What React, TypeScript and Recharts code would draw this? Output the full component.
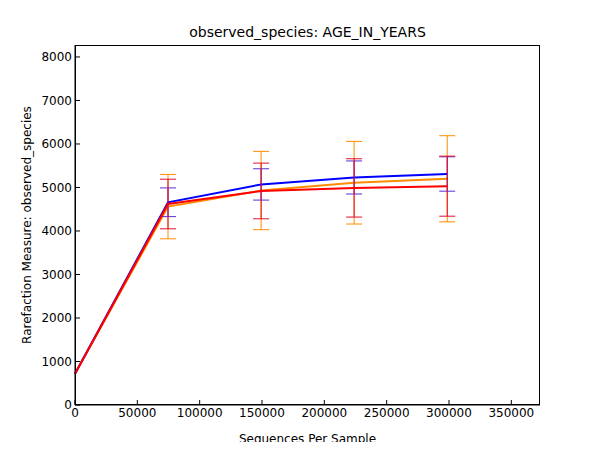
import React from "react";
import { LineChart, Line, XAxis, YAxis, ErrorBar } from "recharts";

const xs = [0, 74600, 149300, 223900, 298600];
const blue = [720, 4660, 5070, 5230, 5310];
const blueErr = [0, 330, 360, 380, 395];
const orange = [720, 4560, 4930, 5110, 5200];
const orangeErr = [0, 740, 900, 950, 990];
const red = [720, 4620, 4920, 4990, 5030];
const redErr = [0, 570, 640, 670, 690];
const xTicks = [0, 50000, 100000, 150000, 200000, 250000, 300000, 350000];
const yTicks = [0, 1000, 2000, 3000, 4000, 5000, 6000, 7000, 8000];

const data = xs.map((x, i) => ({
  x, blue: blue[i], blueErr: blueErr[i], orange: orange[i], orangeErr: orangeErr[i], red: red[i], redErr: redErr[i],
}));

const font = { fontFamily: "DejaVu Sans", fontSize: 12, fill: "#000" };

export default function App() {
  return (
    <div style={{ position: "relative", width: 600, height: 450, margin: -8 }}>
      <div style={{ position: "absolute", left: 0, width: 615, top: 24, textAlign: "center", fontFamily: "DejaVu Sans", fontSize: 14 }}>
        observed_species: AGE_IN_YEARS
      </div>
      <div style={{ position: "absolute", left: 28 - 150, top: 225 - 8, width: 300, height: 16, transform: "rotate(-90deg)", textAlign: "center", fontFamily: "DejaVu Sans", fontSize: 12 }}>
        Rarefaction Measure: observed_species
      </div>
      <div style={{ position: "absolute", left: 75, top: 45, width: 465, height: 360, border: "1px solid #000", boxSizing: "border-box", pointerEvents: "none" }} />
      <div style={{ position: "absolute", left: 0, top: 0 }}>
        <LineChart width={600} height={450} data={data} margin={{ top: 45, right: 60, bottom: 15, left: 15 }}>
          <XAxis dataKey="x" type="number" domain={[0, 373000]} ticks={xTicks} tick={font} stroke="#000" tickSize={-5} tickMargin={8} height={30}
            label={{ value: "Sequences Per Sample", position: "insideBottom", offset: -8, style: font }} />
          <YAxis type="number" domain={[0, 8275]} ticks={yTicks} tick={font} stroke="#000" tickSize={-5} tickMargin={8} width={60} />
          <Line dataKey="orange" stroke="#ff8c00" strokeWidth={2} dot={false} isAnimationActive={false}>
            <ErrorBar dataKey="orangeErr" stroke="#ff8c00" width={8} strokeWidth={1} />
          </Line>
          <Line dataKey="blue" stroke="#0000ff" strokeWidth={2} dot={false} isAnimationActive={false}>
            <ErrorBar dataKey="blueErr" stroke="#5a2bd6" width={8} strokeWidth={1} />
          </Line>
          <Line dataKey="red" stroke="#ff0000" strokeWidth={2} dot={false} isAnimationActive={false}>
            <ErrorBar dataKey="redErr" stroke="#e0102c" width={8} strokeWidth={1} />
          </Line>
        </LineChart>
      </div>
    </div>
  );
}
